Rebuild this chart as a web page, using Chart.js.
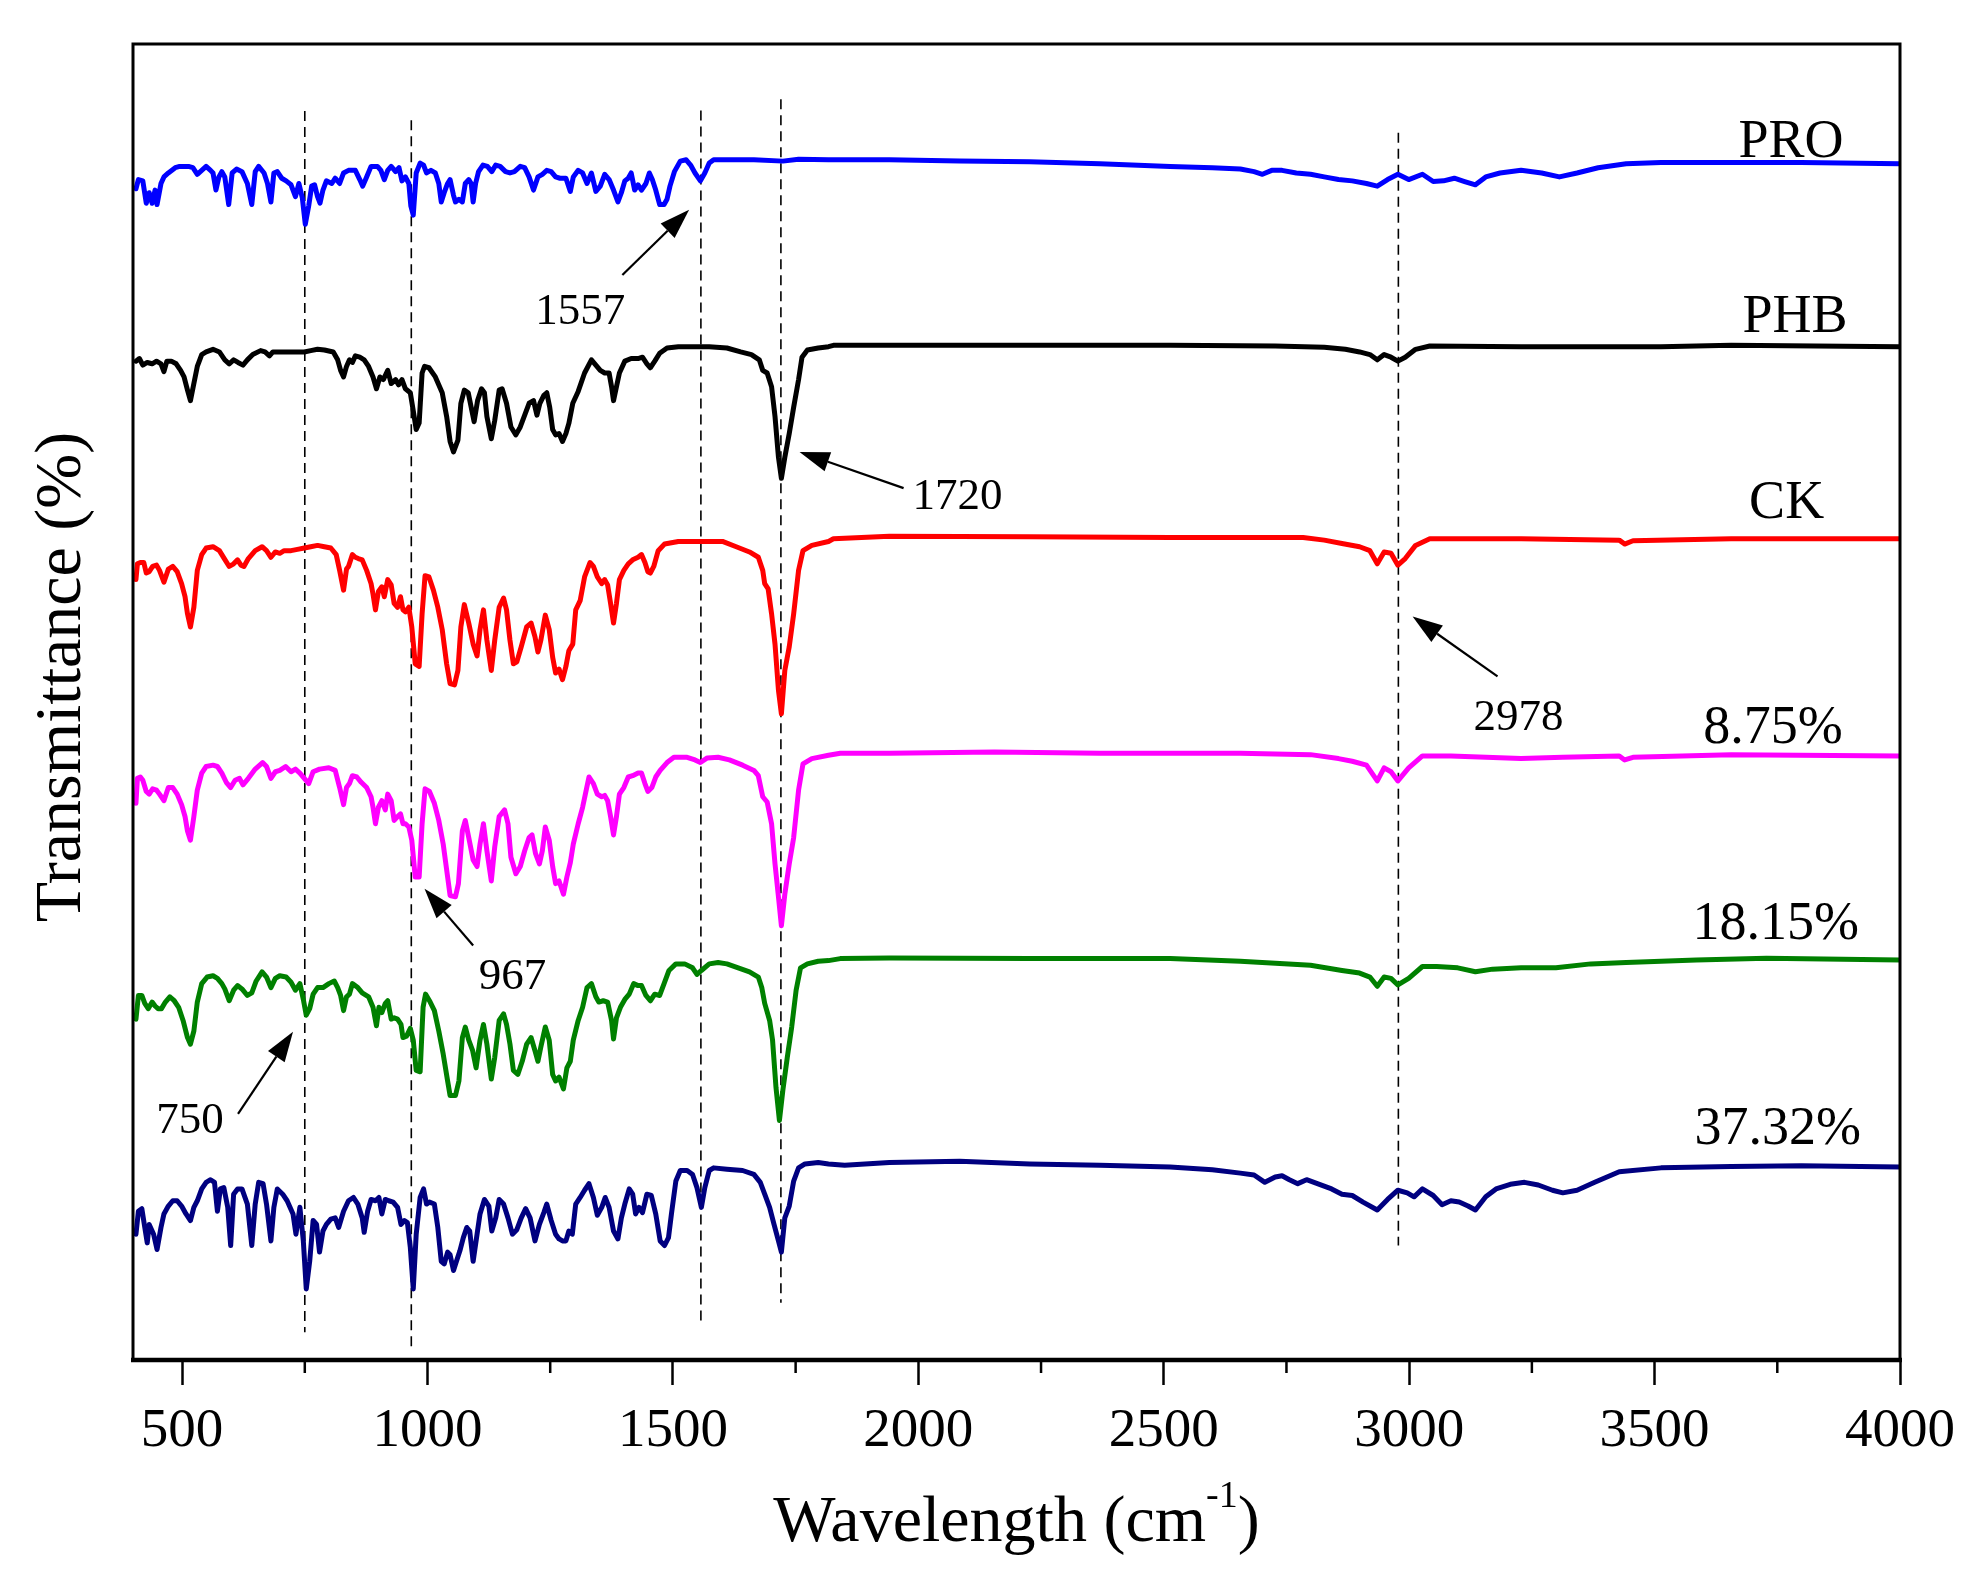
<!DOCTYPE html>
<html>
<head>
<meta charset="utf-8">
<script src="https://cdn.jsdelivr.net/npm/chart.js@4.4.0/dist/chart.umd.min.js"></script>
<style>
  html, body { margin: 0; padding: 0; background: #fff; }
  #wrap { width: 1982px; height: 1580px; position: relative; }
</style>
</head>
<body>
<div id="wrap"><canvas id="ftir"></canvas></div>
<script>
// x axis ticks (cm-1)
const majorTicks = [500, 1000, 1500, 2000, 2500, 3000, 3500, 4000];
const minorTicks = [750, 1250, 1750, 2250, 2750, 3250, 3750];

// spectra, [wavenumber, offset transmittance]
const proPoints = [[406,89.0],[411,89.7],[420,89.6],[427,87.9],[433,88.7],[439,87.9],[445,88.9],[449,87.8],[457,89.4],[463,89.9],[472,90.2],[486,90.6],[495,90.7],[513,90.7],[522,90.6],[531,90.1],[540,90.4],[549,90.7],[558,90.4],[563,90.2],[569,88.9],[575,89.9],[581,90.3],[587,89.9],[595,87.8],[602,90.2],[611,90.5],[622,90.3],[633,89.4],[642,87.8],[649,90.3],[656,90.7],[667,90.2],[674,89.4],[681,88.0],[687,90.2],[694,90.3],[703,89.8],[712,89.6],[722,89.3],[731,88.4],[738,89.4],[745,88.3],[751,86.3],[758,87.7],[764,89.2],[770,89.3],[776,88.4],[781,87.9],[787,88.9],[794,89.6],[805,89.4],[812,89.8],[821,89.4],[829,90.2],[839,90.4],[853,90.4],[862,89.7],[868,89.2],[876,89.9],[885,90.7],[898,90.7],[905,90.4],[912,89.7],[919,90.4],[926,90.7],[935,90.3],[942,90.6],[948,89.6],[955,89.9],[962,89.4],[966,87.7],[971,87.0],[977,90.2],[985,90.95],[992,90.8],[998,90.2],[1007,90.4],[1016,90.2],[1023,89.4],[1028,88.0],[1034,88.7],[1041,89.4],[1046,89.7],[1053,88.5],[1057,88.0],[1064,88.2],[1071,88.0],[1077,89.4],[1084,89.7],[1089,89.4],[1093,88.0],[1098,89.4],[1104,90.3],[1113,90.8],[1122,90.7],[1131,90.3],[1139,90.8],[1148,90.7],[1159,90.3],[1168,90.2],[1177,90.3],[1189,90.7],[1198,90.6],[1207,89.9],[1216,88.9],[1225,89.9],[1234,90.1],[1243,90.4],[1252,90.3],[1261,89.9],[1270,89.8],[1282,89.8],[1291,88.8],[1297,89.9],[1307,90.4],[1316,90.2],[1325,89.4],[1334,90.2],[1343,88.8],[1352,89.2],[1361,90.1],[1370,89.7],[1379,88.9],[1388,88.0],[1395,88.7],[1402,89.6],[1409,89.8],[1415,90.2],[1422,88.9],[1429,89.3],[1436,88.9],[1445,89.4],[1452,90.2],[1458,89.7],[1465,88.9],[1473,87.8],[1482,87.8],[1488,88.2],[1494,89.2],[1503,90.3],[1515,91.1],[1527,91.2],[1536,90.8],[1545,90.2],[1556,89.6],[1565,90.2],[1574,90.95],[1583,91.2],[1665,91.2],[1724,91.1],[1756,91.25],[1817,91.2],
  [1850,91.2],[1941,91.2],[2084,91.1],[2227,91.05],[2370,90.9],[2513,90.7],[2599,90.6],[2656,90.5],[2684,90.3],[2701,90.1],[2720,90.4],[2741,90.4],[2770,90.2],[2799,90.1],[2827,89.9],[2856,89.7],[2884,89.6],[2913,89.4],[2935,89.2],[2956,89.7],[2977,90.1],[2999,89.7],[3027,90.1],[3049,89.55],[3070,89.6],[3092,89.8],[3113,89.55],[3135,89.3],[3156,89.9],[3185,90.2],[3228,90.4],[3270,90.2],[3306,89.9],[3342,90.2],[3385,90.6],[3442,90.9],[3513,91.0],[3656,91.0],[3799,91.0],[4000,90.9]];

const phbPoints = [[406,75.9],[413,76.1],[420,75.6],[429,75.8],[439,75.7],[448,75.9],[457,75.7],[463,75.1],[469,75.9],[478,75.9],[488,75.7],[497,75.2],[504,74.7],[511,73.7],[517,72.9],[524,74.2],[531,75.5],[540,76.4],[549,76.6],[563,76.8],[576,76.6],[587,76.0],[596,75.7],[605,76.0],[614,75.8],[624,75.6],[633,76.0],[644,76.4],[660,76.7],[669,76.6],[678,76.3],[685,76.6],[703,76.6],[749,76.6],[762,76.7],[776,76.8],[790,76.75],[808,76.6],[817,76.0],[823,75.2],[829,74.7],[835,75.5],[841,76.0],[847,75.8],[853,76.3],[862,76.2],[871,76.0],[880,75.5],[889,74.7],[896,73.8],[903,74.7],[910,74.5],[919,75.2],[926,74.2],[935,74.5],[941,74.1],[948,74.5],[955,73.8],[965,73.5],[972,71.9],[977,70.7],[983,71.2],[989,75.0],[994,75.5],[1003,75.4],[1016,74.7],[1030,73.5],[1039,71.7],[1046,69.8],[1053,69.0],[1062,69.9],[1068,72.7],[1075,73.7],[1083,73.5],[1089,72.4],[1095,71.3],[1102,72.9],[1110,73.8],[1116,73.5],[1121,71.7],[1130,70.0],[1137,71.4],[1146,73.7],[1152,73.8],[1161,72.7],[1170,70.9],[1180,70.3],[1189,70.9],[1198,71.8],[1207,72.7],[1216,72.9],[1223,71.8],[1229,72.7],[1237,73.3],[1243,73.5],[1249,72.4],[1255,70.7],[1261,70.3],[1268,70.4],[1275,69.8],[1282,70.4],[1288,71.17],[1296,72.7],[1307,73.6],[1320,75.0],[1334,76.0],[1343,75.6],[1352,75.2],[1361,75.0],[1370,75.0],[1375,73.96],[1379,72.9],[1385,73.96],[1391,75.0],[1402,75.9],[1415,76.1],[1429,76.1],[1438,76.2],[1447,75.7],[1454,75.4],[1463,75.9],[1473,76.5],[1488,76.9],[1511,77.0],[1574,77.0],[1610,76.9],[1638,76.6],[1660,76.4],[1676,76.0],[1683,75.2],[1692,75.0],[1701,73.96],[1708,71.7],[1715,68.6],[1721,67.0],[1728,68.6],[1737,70.4],[1746,72.4],[1756,74.5],[1763,76.2],[1774,76.75],[1796,76.9],[1817,77.0],
  [1827,77.1],[1941,77.1],[2227,77.1],[2513,77.1],[2727,77.05],[2827,76.95],[2870,76.8],[2899,76.6],[2920,76.4],[2935,76.0],[2949,76.4],[2963,76.2],[2977,75.9],[2992,76.2],[3013,76.8],[3042,77.05],[3228,77.0],[3513,77.0],[3656,77.1],[4000,77.0]];

const ckPoints = [[406,59.3],[409,60.5],[415,60.6],[422,60.6],[427,59.8],[433,59.9],[440,60.3],[448,60.4],[454,60.0],[463,59.1],[472,60.1],[481,60.3],[490,59.9],[499,59.0],[506,58.0],[511,56.7],[517,55.7],[524,57.2],[531,60.0],[540,61.2],[549,61.7],[563,61.8],[576,61.5],[586,60.9],[596,60.3],[605,60.5],[613,60.8],[620,60.4],[626,60.3],[635,60.9],[649,61.5],[663,61.8],[672,61.5],[681,61.0],[690,61.4],[699,61.3],[708,61.5],[722,61.5],[735,61.6],[749,61.7],[762,61.8],[776,61.9],[790,61.8],[803,61.7],[814,61.2],[821,60.0],[829,58.5],[835,60.1],[839,60.3],[847,61.2],[853,61.0],[859,60.9],[867,60.8],[876,60.0],[885,59.0],[889,58.2],[894,57.0],[900,58.4],[907,58.75],[912,58.0],[919,59.3],[926,58.9],[932,57.5],[939,57.2],[945,58.0],[950,57.0],[955,56.85],[962,57.2],[968,55.7],[975,52.9],[983,52.7],[989,56.7],[995,59.6],[1003,59.5],[1012,58.5],[1021,57.2],[1030,55.5],[1039,52.9],[1046,51.4],[1055,51.3],[1062,52.4],[1068,55.7],[1075,57.4],[1084,56.0],[1093,54.4],[1101,53.5],[1107,55.5],[1114,57.0],[1121,54.7],[1130,52.4],[1137,54.7],[1146,57.2],[1155,57.9],[1161,57.0],[1168,54.7],[1175,52.9],[1182,53.05],[1191,54.2],[1202,55.7],[1211,56.0],[1219,54.95],[1225,53.8],[1231,54.7],[1240,56.6],[1248,55.5],[1255,53.4],[1261,52.2],[1268,52.5],[1275,51.7],[1282,52.7],[1288,53.9],[1296,54.4],[1302,57.0],[1311,57.7],[1320,59.5],[1331,60.6],[1338,60.3],[1346,59.5],[1355,59.0],[1361,59.3],[1367,58.9],[1373,57.5],[1379,56.0],[1385,57.5],[1391,59.3],[1400,60.0],[1409,60.5],[1418,60.8],[1429,61.0],[1436,61.2],[1443,60.6],[1449,59.9],[1454,59.8],[1461,60.3],[1470,61.5],[1483,62.0],[1511,62.2],[1601,62.2],[1629,61.8],[1656,61.4],[1674,61.0],[1683,60.0],[1687,59.0],[1694,58.6],[1701,56.7],[1708,54.4],[1715,50.9],[1721,49.1],[1728,52.4],[1737,54.2],[1746,56.7],[1756,60.0],[1765,61.5],[1783,61.9],[1817,62.2],
  [1827,62.4],[1941,62.6],[2227,62.55],[2513,62.5],[2784,62.5],[2827,62.3],[2863,62.05],[2899,61.8],[2920,61.5],[2935,60.5],[2949,61.4],[2963,61.3],[2977,60.4],[2992,60.9],[3013,61.9],[3042,62.4],[3228,62.4],[3428,62.3],[3439,62.0],[3456,62.25],[3656,62.4],[4000,62.4]];

const p875Points = [[406,42.3],[409,44.2],[415,44.3],[420,44.05],[427,43.2],[433,43.0],[440,43.4],[448,43.3],[454,43.0],[463,42.5],[472,43.5],[481,43.5],[490,43.0],[499,42.2],[506,41.3],[511,40.2],[517,39.5],[524,41.3],[531,43.3],[540,44.6],[549,45.1],[563,45.2],[572,45.1],[581,44.6],[590,43.9],[599,43.5],[608,44.05],[617,44.2],[624,43.7],[635,44.2],[649,44.9],[664,45.4],[672,45.1],[681,44.2],[690,44.7],[699,44.8],[711,45.1],[722,44.7],[731,44.9],[740,44.6],[749,44.2],[758,43.8],[767,44.7],[780,44.9],[799,45.0],[812,44.8],[821,43.5],[829,42.2],[835,43.5],[841,43.8],[847,44.4],[856,44.3],[865,43.9],[876,43.5],[885,42.8],[889,42.0],[894,40.75],[900,42.0],[907,42.5],[914,41.8],[919,43.0],[926,42.5],[932,41.0],[939,41.3],[945,41.5],[950,40.75],[955,40.75],[962,40.5],[968,39.5],[975,36.7],[983,36.7],[989,40.75],[995,43.4],[1004,43.2],[1014,42.3],[1023,41.0],[1032,39.2],[1041,36.7],[1046,35.3],[1057,35.2],[1063,36.2],[1071,40.2],[1077,41.0],[1084,39.7],[1093,38.0],[1101,37.5],[1107,39.2],[1114,40.75],[1121,38.7],[1130,36.4],[1137,39.0],[1146,41.3],[1157,41.8],[1164,40.75],[1170,38.2],[1180,36.95],[1189,37.5],[1198,38.7],[1207,39.7],[1213,39.9],[1220,38.5],[1228,37.7],[1234,38.7],[1240,40.5],[1248,39.5],[1255,37.5],[1261,36.2],[1268,36.4],[1277,35.4],[1284,36.7],[1291,37.8],[1297,39.2],[1307,40.75],[1316,42.0],[1329,44.3],[1338,43.8],[1346,43.0],[1355,42.8],[1361,42.9],[1367,42.5],[1373,41.3],[1379,39.9],[1385,41.3],[1391,43.0],[1400,43.5],[1409,44.3],[1418,44.4],[1429,44.6],[1436,44.6],[1443,43.8],[1449,43.2],[1457,43.5],[1465,44.3],[1474,44.8],[1488,45.4],[1502,45.8],[1529,45.8],[1545,45.6],[1556,45.4],[1570,45.75],[1592,45.8],[1615,45.6],[1642,45.2],[1665,44.8],[1674,44.4],[1683,42.8],[1692,42.4],[1701,40.75],[1708,37.7],[1715,35.2],[1721,33.0],[1728,35.4],[1737,37.7],[1746,39.7],[1756,43.3],[1765,45.3],[1783,45.7],[1817,45.95],
  [1841,46.1],[1941,46.1],[2155,46.2],[2370,46.1],[2656,46.1],[2799,46.0],[2856,45.7],[2884,45.5],[2913,45.2],[2935,44.0],[2949,45.0],[2963,44.7],[2977,44.0],[2999,45.0],[3027,45.9],[3085,45.9],[3228,45.7],[3313,45.8],[3428,45.9],[3439,45.6],[3456,45.8],[3656,46.0],[4000,45.9]];

const p1815Points = [[406,25.9],[411,27.7],[418,27.7],[424,27.1],[431,26.7],[439,27.2],[445,26.9],[451,26.7],[458,26.7],[466,27.2],[475,27.6],[484,27.3],[493,26.8],[502,25.8],[511,24.5],[517,24.0],[524,25.0],[531,27.2],[540,28.6],[551,29.1],[563,29.2],[572,29.0],[581,28.6],[587,28.2],[596,27.3],[605,28.1],[613,28.45],[622,28.2],[633,27.7],[642,27.9],[651,28.8],[663,29.5],[672,29.1],[681,28.3],[690,29.0],[699,29.2],[712,29.1],[722,28.7],[731,28.1],[740,28.6],[747,27.4],[753,26.2],[760,26.7],[767,27.8],[776,28.3],[787,28.3],[799,28.6],[810,28.8],[817,28.3],[823,27.7],[829,26.55],[835,27.6],[841,27.8],[847,28.6],[858,28.3],[867,27.9],[880,27.6],[889,26.8],[896,25.4],[901,26.8],[907,26.4],[914,27.1],[919,27.3],[926,25.9],[932,26.0],[939,25.9],[946,25.5],[950,24.5],[957,24.6],[965,25.2],[971,24.3],[977,22.0],[985,21.9],[991,26.8],[996,27.8],[1004,27.3],[1014,26.55],[1023,25.0],[1032,23.25],[1041,21.2],[1046,20.1],[1057,20.1],[1064,21.2],[1071,24.5],[1077,25.3],[1084,24.3],[1092,23.5],[1099,22.2],[1107,24.3],[1114,25.5],[1121,24.0],[1130,21.35],[1137,23.0],[1146,25.8],[1155,26.3],[1161,25.5],[1168,24.0],[1175,22.0],[1184,21.7],[1193,22.7],[1202,24.0],[1211,24.5],[1219,23.5],[1225,22.7],[1231,23.8],[1240,25.3],[1248,24.3],[1255,21.7],[1261,21.2],[1268,21.5],[1277,20.6],[1284,22.2],[1291,22.7],[1297,24.3],[1307,25.8],[1316,26.8],[1325,28.3],[1334,28.6],[1343,27.6],[1349,27.2],[1358,27.3],[1367,27.2],[1375,25.8],[1379,24.4],[1385,26.0],[1393,26.8],[1402,27.4],[1411,27.8],[1420,28.6],[1429,28.45],[1436,28.45],[1445,27.7],[1454,27.3],[1463,27.8],[1473,27.7],[1482,28.6],[1492,29.6],[1506,30.1],[1524,30.1],[1540,29.8],[1549,29.3],[1558,29.6],[1574,30.1],[1592,30.2],[1610,30.1],[1633,29.8],[1656,29.5],[1674,29.1],[1681,28.3],[1687,27.1],[1697,25.8],[1703,24.3],[1710,20.7],[1717,18.2],[1724,20.5],[1733,23.0],[1742,25.3],[1751,28.1],[1760,29.8],[1774,30.1],[1796,30.3],[1817,30.35],
  [1841,30.5],[1941,30.55],[2227,30.5],[2513,30.5],[2656,30.3],[2799,30.0],[2863,29.6],[2899,29.4],[2920,29.1],[2935,28.4],[2949,29.1],[2963,29.0],[2977,28.5],[2999,29.0],[3027,29.9],[3056,29.9],[3099,29.8],[3135,29.5],[3170,29.7],[3228,29.8],[3299,29.8],[3370,30.1],[3442,30.2],[3585,30.4],[3728,30.53],[4000,30.4]];

const p3732Points = [[406,9.56],[411,11.3],[418,11.5],[424,10.07],[429,8.9],[433,10.3],[442,9.56],[449,8.4],[457,10.07],[463,11.1],[472,11.7],[481,12.1],[490,12.1],[499,11.7],[508,11.1],[517,10.6],[524,11.6],[531,12.1],[540,13.0],[549,13.5],[558,13.7],[566,13.5],[572,11.3],[578,13.0],[585,13.1],[593,11.6],[599,8.7],[605,12.6],[613,13.0],[622,13.0],[633,11.85],[642,8.7],[649,11.85],[656,13.5],[665,13.4],[672,11.85],[681,9.05],[687,11.6],[694,13.0],[705,12.6],[714,12.1],[726,11.1],[732,9.56],[740,11.6],[747,9.05],[753,5.4],[760,7.5],[767,10.6],[774,10.3],[780,8.2],[787,9.8],[794,10.3],[803,10.7],[812,10.8],[819,10.07],[829,11.3],[839,12.1],[849,12.35],[858,11.85],[867,10.8],[871,9.7],[878,11.3],[885,12.2],[894,12.1],[901,12.35],[907,11.1],[914,12.2],[921,12.1],[930,12.0],[939,11.6],[946,10.3],[953,10.6],[959,10.45],[965,8.55],[971,5.4],[977,9.56],[985,12.35],[992,13.0],[998,11.85],[1004,12.0],[1014,11.85],[1021,10.07],[1028,7.5],[1034,7.3],[1041,8.2],[1046,8.0],[1053,6.8],[1059,7.5],[1066,8.3],[1073,9.3],[1080,10.07],[1086,9.8],[1093,7.5],[1101,9.56],[1107,11.1],[1116,12.2],[1125,11.7],[1131,9.8],[1139,10.8],[1146,12.2],[1155,11.85],[1164,10.8],[1173,9.56],[1182,9.9],[1191,10.8],[1200,11.5],[1209,10.8],[1219,9.05],[1228,10.3],[1237,11.2],[1243,11.85],[1252,10.6],[1261,9.56],[1268,9.2],[1275,9.05],[1282,9.05],[1288,9.8],[1295,9.56],[1302,11.85],[1311,12.35],[1320,12.9],[1329,13.4],[1338,12.35],[1346,11.0],[1355,11.6],[1362,12.35],[1370,11.6],[1379,9.8],[1388,9.2],[1395,10.8],[1402,11.85],[1411,13.0],[1418,12.6],[1424,11.1],[1431,11.6],[1438,11.2],[1447,12.6],[1456,12.5],[1465,11.1],[1474,9.05],[1483,8.7],[1491,9.3],[1497,11.1],[1506,13.6],[1515,14.4],[1529,14.4],[1540,14.1],[1549,13.1],[1558,11.6],[1565,13.1],[1574,14.4],[1583,14.6],[1610,14.5],[1642,14.4],[1665,14.1],[1678,13.5],[1687,12.6],[1697,11.6],[1706,10.3],[1715,9.05],[1721,8.2],[1728,10.8],[1737,11.7],[1746,13.6],[1756,14.6],[1769,14.9],[1796,15.0],[1817,14.9],
  [1850,14.8],[1941,15.0],[2084,15.1],[2227,14.9],[2370,14.8],[2513,14.66],[2599,14.45],[2656,14.2],[2684,14.06],[2706,13.5],[2727,13.9],[2741,14.0],[2756,13.7],[2773,13.4],[2791,13.7],[2813,13.4],[2842,13.0],[2863,12.6],[2884,12.5],[2906,12.0],[2935,11.4],[2956,12.2],[2977,12.9],[2996,12.7],[3010,12.4],[3027,13.0],[3049,12.5],[3067,11.8],[3085,12.1],[3102,12.0],[3120,11.7],[3135,11.4],[3156,12.4],[3177,13.0],[3206,13.35],[3235,13.5],[3263,13.3],[3292,12.9],[3313,12.7],[3342,12.9],[3378,13.5],[3428,14.3],[3513,14.6],[3656,14.7],[3799,14.76],[4000,14.66]];

const seriesNames = ['PRO', 'PHB', 'CK', '8.75%', '18.15%', '37.32%'];
const seriesPoints = [proPoints, phbPoints, ckPoints, p875Points, p1815Points, p3732Points];
const seriesColors = ['#0000ff', '#000000', '#ff0000', '#ff00ff', '#008000', '#000080'];
const nameWn = [3778, 3786, 3769, 3741, 3747, 3751];
const nameVal = [91.4, 78.1, 64.0, 46.9, 32.0, 16.4];

// dashed marker lines
const markerWn = [750, 967, 1557, 1720, 2978];
const markerTop = [94.9, 94.2, 94.95, 95.8, 93.25];
const markerBottom = [2.1, 0.6, 3.0, 4.35, 8.7];

// arrow callouts
const calloutText = ['1557', '1720', '2978', '967', '750'];
const calloutWn = [1311, 2080, 3223, 1173, 516];
const calloutVal = [78.7, 64.65, 47.85, 28.2, 17.27];
const arrowTailWn = [1397, 1970, 3180, 1093, 614];
const arrowTailVal = [82.45, 66.25, 51.95, 31.5, 18.7];
const arrowHeadWn = [1533, 1758, 3007, 994, 726];
const arrowHeadVal = [87.4, 69.0, 56.5, 35.8, 24.95];

const serif = "'Liberation Serif', 'Times New Roman', serif";

const datasets = [];
seriesNames.forEach((name, i) => {
    datasets.push({
        label: name,
        data: seriesPoints[i].map(p => ({ x: p[0], y: p[1] })),
        borderColor: seriesColors[i],
        borderWidth: 5,
        borderJoinStyle: 'round',
        borderCapStyle: 'round',
        pointRadius: 0,
        tension: 0
    });
});
markerWn.forEach((wn, i) => {
    datasets.push({
        label: 'marker ' + wn,
        data: [{ x: wn, y: markerTop[i] }, { x: wn, y: markerBottom[i] }],
        borderColor: '#000',
        borderWidth: 1.6,
        borderDash: [10, 6],
        pointRadius: 0
    });
});

const decorations = {
    id: 'decorations',
    afterDatasetsDraw(chart) {
        const ctx = chart.ctx;
        const a = chart.chartArea;
        const xs = chart.scales.x;
        const ys = chart.scales.y;
        ctx.save();

        // frame
        ctx.strokeStyle = '#000';
        ctx.lineWidth = 3;
        ctx.strokeRect(a.left, a.top, a.right - a.left, a.bottom - a.top);
        ctx.lineWidth = 4.5;
        ctx.beginPath();
        ctx.moveTo(a.left - 2, a.bottom);
        ctx.lineTo(a.right + 2, a.bottom);
        ctx.stroke();

        // minor ticks
        ctx.lineWidth = 2.5;
        minorTicks.forEach(v => {
            const px = xs.getPixelForValue(v);
            ctx.beginPath();
            ctx.moveTo(px, a.bottom);
            ctx.lineTo(px, a.bottom + 13);
            ctx.stroke();
        });

        // series names
        ctx.fillStyle = '#000';
        ctx.textAlign = 'center';
        ctx.textBaseline = 'alphabetic';
        ctx.font = '54px ' + serif;
        seriesNames.forEach((name, i) => {
            ctx.fillText(name, xs.getPixelForValue(nameWn[i]), ys.getPixelForValue(nameVal[i]));
        });

        // callouts with arrows
        ctx.font = '45px ' + serif;
        calloutText.forEach((t, i) => {
            ctx.fillText(t, xs.getPixelForValue(calloutWn[i]), ys.getPixelForValue(calloutVal[i]));
            const x1 = xs.getPixelForValue(arrowTailWn[i]);
            const y1 = ys.getPixelForValue(arrowTailVal[i]);
            const x2 = xs.getPixelForValue(arrowHeadWn[i]);
            const y2 = ys.getPixelForValue(arrowHeadVal[i]);
            const ang = Math.atan2(y2 - y1, x2 - x1);
            const len = 30, half = 10;
            const bx = x2 - len * Math.cos(ang);
            const by = y2 - len * Math.sin(ang);
            ctx.lineWidth = 2.2;
            ctx.beginPath();
            ctx.moveTo(x1, y1);
            ctx.lineTo(bx, by);
            ctx.stroke();
            ctx.beginPath();
            ctx.moveTo(x2, y2);
            ctx.lineTo(bx + half * Math.sin(ang), by - half * Math.cos(ang));
            ctx.lineTo(bx - half * Math.sin(ang), by + half * Math.cos(ang));
            ctx.closePath();
            ctx.fill();
        });

        // axis titles
        ctx.font = '66px ' + serif;
        ctx.textAlign = 'left';
        const main = 'Wavelength (cm';
        const sup = '-1';
        const wMain = ctx.measureText(main).width;
        ctx.font = '38px ' + serif;
        const wSup = ctx.measureText(sup).width;
        ctx.font = '66px ' + serif;
        const wEnd = ctx.measureText(')').width;
        let tx = (a.left + a.right) / 2 - (wMain + wSup + wEnd) / 2;
        const ty = 1541;
        ctx.fillText(main, tx, ty);
        tx += wMain;
        ctx.font = '38px ' + serif;
        ctx.fillText(sup, tx, ty - 34);
        tx += wSup;
        ctx.font = '66px ' + serif;
        ctx.fillText(')', tx, ty);

        ctx.translate(63, 677);
        ctx.rotate(-Math.PI / 2);
        ctx.textAlign = 'center';
        ctx.textBaseline = 'middle';
        ctx.fillText('Transmittance (%)', 0, 0);
        ctx.restore();
    }
};

new Chart(document.getElementById('ftir').getContext('2d'), {
    type: 'line',
    data: { datasets: datasets },
    options: {
        responsive: true,
        maintainAspectRatio: false,
        animation: false,
        layout: { padding: { left: 133, top: 44, right: 82, bottom: 101 } },
        plugins: { legend: { display: false }, tooltip: { enabled: false } },
        scales: {
            x: {
                type: 'linear',
                min: 400,
                max: 4000,
                afterBuildTicks: scale => { scale.ticks = majorTicks.map(v => ({ value: v })); },
                border: { display: false },
                grid: {
                    display: true,
                    drawOnChartArea: false,
                    drawTicks: true,
                    tickLength: 25,
                    tickWidth: 2.5,
                    tickColor: '#000'
                },
                ticks: {
                    color: '#000',
                    padding: 14,
                    maxRotation: 0,
                    autoSkip: false,
                    callback: v => String(v),
                    font: { family: serif, size: 55 }
                }
            },
            y: {
                type: 'linear',
                min: 0,
                max: 100,
                display: false
            }
        }
    },
    plugins: [decorations]
});
</script>
</body>
</html>
